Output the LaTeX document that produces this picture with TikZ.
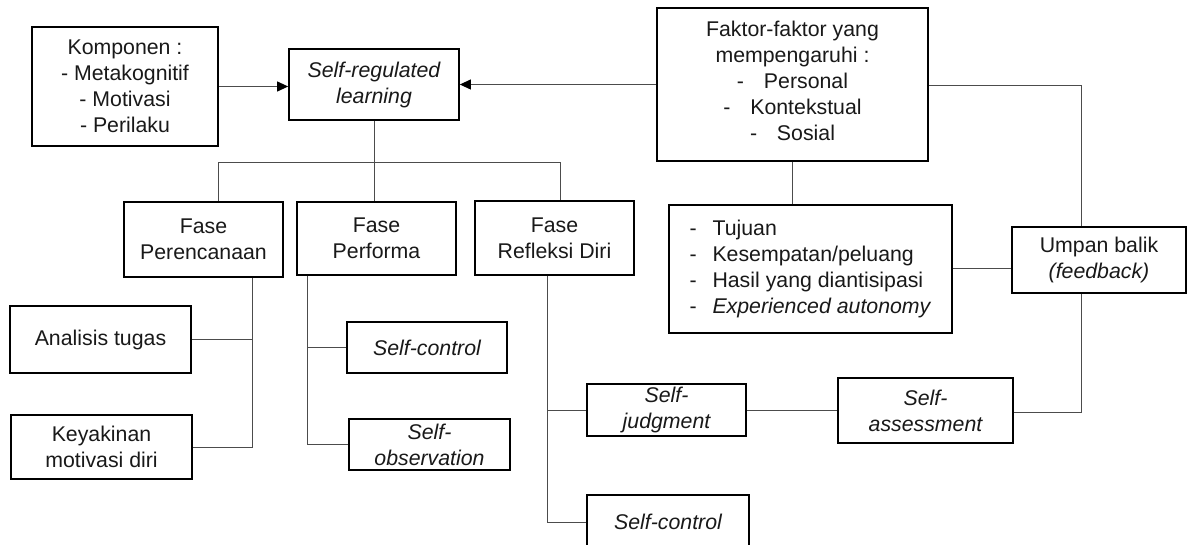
\documentclass[tikz,border=0pt]{standalone}
\usepackage{fontspec}
\setmainfont{Liberation Sans}
\usetikzlibrary{arrows.meta}
\tikzset{
  box/.style={draw=black, line width=1.7pt, rectangle, inner sep=0pt, align=center,
    font=\fontsize{21.3}{26}\selectfont, text=black!90},
  conn/.style={draw=black!70, line width=1pt},
  arr/.style={conn, -{Triangle[length=11pt,width=10pt,color=black]}},
}
\newcommand{\dsh}[1]{\makebox[#1][l]{-}}
\begin{document}
\begin{tikzpicture}[x=1pt,y=-1pt]
\fill[white] (0,0) rectangle (1191,545);
\useasboundingbox (0,0) rectangle (1191,545);

% top row
\node[box, minimum width=186pt, minimum height=119pt] (komp) at (125,86.5)
  {Komponen :\\- Metakognitif\\- Motivasi\\- Perilaku};
\node[box, minimum width=170pt, minimum height=71pt] (srl) at (374,84.5)
  {\itshape Self-regulated\\\itshape learning};
\node[box, minimum width=271pt, minimum height=153pt] (fak) at (792.5,84.5)
  {Faktor-faktor yang\\mempengaruhi :\\\dsh{27pt}Personal\\\dsh{27pt}Kontekstual\\\dsh{27pt}Sosial\\[-19pt]\mbox{}};

% phases
\node[box, minimum width=159pt, minimum height=75pt] (pere) at (203.5,239.5)
  {Fase\\Perencanaan};
\node[box, minimum width=159pt, minimum height=73pt] (perf) at (376.5,238.5)
  {Fase\\Performa};
\node[box, minimum width=159pt, minimum height=74pt] (refl) at (554.5,238)
  {Fase\\Refleksi Diri};

% right side
\node[box, minimum width=283pt, minimum height=128pt, align=left] (tuj) at (810.5,269)
  {\dsh{23pt}Tujuan\\\dsh{23pt}Kesempatan/peluang\\\dsh{23pt}Hasil yang diantisipasi\\\dsh{23pt}\textit{Experienced autonomy}};
\node[box, minimum width=174pt, minimum height=66pt] (umpan) at (1099,260)
  {Umpan balik\\\textit{(feedback)}};

% children
\node[box, minimum width=181pt, minimum height=67pt] (anal) at (100.5,339.5)
  {Analisis tugas};
\node[box, minimum width=181pt, minimum height=64pt] (keya) at (101.5,447)
  {Keyakinan\\motivasi diri};
\node[box, minimum width=160pt, minimum height=51pt] (sc1) at (427,347.5)
  {\itshape Self-control};
\node[box, minimum width=161pt, minimum height=51pt] (sobs) at (429.5,444.5)
  {\itshape Self-\\\itshape observation};
\node[box, minimum width=159pt, minimum height=52pt] (sjud) at (666.5,410)
  {\itshape Self-\\\itshape judgment};
\node[box, minimum width=175pt, minimum height=65pt] (sass) at (925.5,410.5)
  {\itshape Self-\\\itshape assessment};
\node[box, minimum width=162pt, minimum height=54pt] (sc2) at (668,522)
  {\itshape Self-control};

% helper coordinates
\coordinate (b1) at (218,163);
\coordinate (b3) at (560,163);
\coordinate (pl) at (252,0);
\coordinate (fl) at (307,0);
\coordinate (rl) at (547,0);
\coordinate (ul) at (1081,0);

% arrows into SRL
\draw[arr] (komp.east) -- (komp.east -| srl.west);
\draw[arr] (fak.west) -- (fak.west -| srl.east);

% SRL to phases
\draw[conn] (srl.south) -- (srl.south |- perf.north);
\draw[conn] (b1 |- pere.north) -- (b1) -- (b3) -- (b3 |- refl.north);

% Perencanaan branch
\draw[conn] (pl |- pere.south) -- (pl |- keya.east) -- (keya.east);
\draw[conn] (anal.east) -- (pl |- anal.east);

% Performa branch
\draw[conn] (fl |- perf.south) -- (fl |- sobs.west) -- (sobs.west);
\draw[conn] (sc1.west) -- (fl |- sc1.west);

% Refleksi branch
\draw[conn] (rl |- refl.south) -- (rl |- sc2.west) -- (sc2.west);
\draw[conn] (sjud.west) -- (rl |- sjud.west);

% judgment - assessment - feedback
\draw[conn] (sjud.east) -- (sjud.east -| sass.west);
\draw[conn] ([yshift=-1.5pt]sass.east) -| (ul |- umpan.south);

% faktor connections
\draw[conn] ([yshift=-1.5pt]fak.east) -| (ul |- umpan.north);
\draw[conn] (fak.south -| 792,0) -- (tuj.north -| 792,0);
\draw[conn] (tuj.east) -- (tuj.east -| umpan.west);
\end{tikzpicture}
\end{document}
